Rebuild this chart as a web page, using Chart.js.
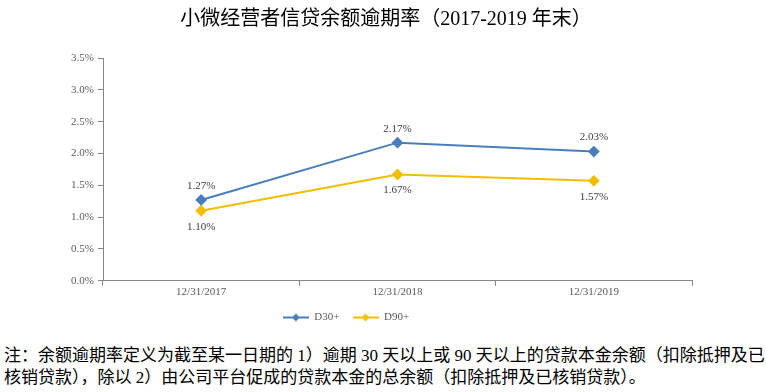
<!DOCTYPE html>
<html>
<head>
<meta charset="utf-8">
<script src="https://cdn.jsdelivr.net/npm/chart.js@4"></script>
<style>
  body{margin:0;background:#fff;width:766px;height:392px;overflow:hidden;position:relative;}
  #wrap{position:absolute;left:0;top:0;width:766px;height:337px;}
  #title{position:absolute;left:0;top:6px;width:772px;text-align:center;font-family:"Liberation Serif","Noto Sans CJK SC",serif;
         font-size:20px;line-height:24px;color:#000;white-space:nowrap;}
  #note{position:absolute;left:4px;top:345px;font-family:"Liberation Serif","Noto Sans CJK SC",serif;
        font-size:17px;line-height:22px;color:#000;white-space:nowrap;}
</style>
</head>
<body>
<div id="wrap"><canvas id="chart" width="766" height="337"></canvas></div>
<div id="title">小微经营者信贷余额逾期率（2017-2019 年末）</div>
<div id="note">注：余额逾期率定义为截至某一日期的 1）逾期 30 天以上或 90 天以上的贷款本金余额（扣除抵押及已<br>核销贷款），除以 2）由公司平台促成的贷款本金的总余额（扣除抵押及已核销贷款）。</div>
<script>
// DATA
const categories = ["12/31/2017", "12/31/2018", "12/31/2019"];
const d30 = [1.27, 2.17, 2.03];
const d90 = [1.10, 1.67, 1.57];
const yTicks = [0, 0.5, 1.0, 1.5, 2.0, 2.5, 3.0, 3.5];

const SERIF = "'Liberation Serif','Noto Sans CJK SC',serif";
const BLUE = "#4a7ebb";
const GOLD = "#f2be00";

// legend icon: line + diamond
function legendIcon(color){
  let c=document.createElement("canvas");
  c.width=26;c.height=10;
  let ctx=c.getContext("2d");
  ctx.strokeStyle=color;ctx.lineWidth=2;
  ctx.beginPath();ctx.moveTo(0,5);ctx.lineTo(26,5);ctx.stroke();
  ctx.fillStyle=color;
  ctx.beginPath();ctx.moveTo(13,1);ctx.lineTo(17,5);ctx.lineTo(13,9);ctx.lineTo(9,5);ctx.closePath();ctx.fill();
  return c;
}

// data labels
const pointLabels={
  id:"pointLabels",
  afterDatasetsDraw(chart){
    let ctx=chart.ctx;
    ctx.save();
    ctx.font="11px "+SERIF;
    ctx.fillStyle="#404040";
    ctx.textAlign="center";
    ctx.textBaseline="middle";
    chart.data.datasets.forEach((ds,di)=>{
      chart.getDatasetMeta(di).data.forEach((pt,i)=>{
        let dy = di===0 ? -14 : 16;
        ctx.fillText(ds.data[i].toFixed(2)+"%",pt.x,pt.y+dy);
      });
    });
    ctx.restore();
  }
};

new Chart(document.getElementById("chart"),{
  type:"line",
  data:{
    labels:categories,
    datasets:[
      {label:"D30+",data:d30,borderColor:BLUE,backgroundColor:BLUE,borderWidth:2,
       pointStyle:"rectRot",pointRadius:4.5,pointHoverRadius:4.5,tension:0},
      {label:"D90+",data:d90,borderColor:GOLD,backgroundColor:GOLD,borderWidth:2,
       pointStyle:"rectRot",pointRadius:4.5,pointHoverRadius:4.5,tension:0}
    ]
  },
  options:{
    responsive:false,
    animation:false,
    layout:{padding:{left:0,right:74,top:58,bottom:4}},
    plugins:{
      title:{display:false},
      legend:{position:"bottom",
        labels:{font:{family:SERIF,size:11},color:"#595959",usePointStyle:true,pointStyleWidth:26,boxHeight:10,padding:13,
          generateLabels(chart){
            return chart.data.datasets.map((ds,i)=>({
              text:ds.label,pointStyle:legendIcon(ds.borderColor),datasetIndex:i,
              fillStyle:ds.borderColor,strokeStyle:ds.borderColor,lineWidth:0,fontColor:"#595959"
            }));
          }}},
      tooltip:{enabled:false}
    },
    scales:{
      x:{offset:true,
        grid:{display:true,drawOnChartArea:false,drawTicks:true,tickLength:5,offset:true,color:"#868686"},
        border:{color:"#868686"},
        ticks:{font:{family:SERIF,size:11},color:"#595959",padding:0}},
      y:{min:0,max:3.5,
        afterBuildTicks(scale){scale.ticks=yTicks.map(v=>({value:v}));},
        afterFit(scale){scale.width=103;},
        grid:{display:true,drawOnChartArea:false,drawTicks:true,tickLength:5,color:"#868686"},
        border:{color:"#868686"},
        ticks:{font:{family:SERIF,size:11},color:"#595959",padding:4,
          callback:v=>v.toFixed(1)+"%"}}
    }
  },
  plugins:[pointLabels]
});
</script>
</body>
</html>
